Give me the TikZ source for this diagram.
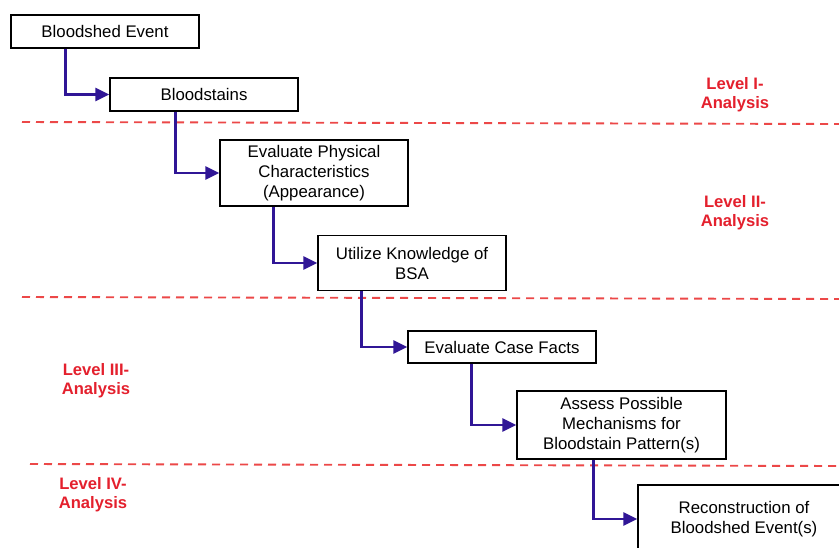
\documentclass[tikz,border=0pt]{standalone}
\usepackage{fontspec}
\setmainfont{Liberation Sans}
\usetikzlibrary{arrows.meta}
\definecolor{arrowblue}{RGB}{48,22,150}
\definecolor{lvlred}{RGB}{228,32,45}
\definecolor{dashred}{RGB}{236,72,72}
\tikzset{
  stepbox/.style={draw=black, line width=1.4pt, fill=white, inner sep=0pt, align=center,
    font=\fontsize{16.8}{20}\selectfont},
  flow/.style={draw=arrowblue, line width=2.6pt, -{Triangle[length=14pt,width=13pt]}},
  levelline/.style={draw=dashred, line width=1.9pt, dash pattern=on 8pt off 6pt},
  lvl/.style={text=lvlred, font=\fontsize{16.6}{19}\selectfont\bfseries, align=center, inner sep=0pt}
}
\begin{document}
\begin{tikzpicture}[x=1pt,y=-1pt]
\clip (0,0) rectangle (839,547);
\fill[white] (0,0) rectangle (839,547);
% dashed separators
\coordinate (d1a) at (22,122); \coordinate (d1b) at (839,124);
\coordinate (d2a) at (22,297); \coordinate (d2b) at (839,299);
\coordinate (d3a) at (30,464); \coordinate (d3b) at (839,466);
\draw[levelline] (d1a) -- (d1b);
\draw[levelline] (d2a) -- (d2b);
\draw[levelline] (d3a) -- (d3b);
% boxes
\node[stepbox, minimum width=188pt, minimum height=33pt] (b1) at (105,31.5) {Bloodshed Event};
\node[stepbox, minimum width=188pt, minimum height=33pt] (b2) at (204,94.5) {Bloodstains};
\node[stepbox, minimum width=188pt, minimum height=66pt] (b3) at (314,173) {Evaluate Physical\\Characteristics\\(Appearance)};
\node[stepbox, minimum width=188pt, minimum height=55pt] (b4) at (412,263) {Utilize Knowledge of\\BSA};
\node[stepbox, minimum width=188pt, minimum height=32pt] (b5) at (502,347) {Evaluate Case Facts};
\node[stepbox, minimum width=209pt, minimum height=68pt] (b6) at (621.5,425) {Assess Possible\\Mechanisms for\\Bloodstain Pattern(s)};
\node[stepbox, minimum width=212pt, minimum height=68pt] (b7) at (744,519) {Reconstruction of\\Bloodshed Event(s)};
% connectors
\draw[flow] ([xshift=55pt]b1.south west) |- (b2.west);
\draw[flow] ([xshift=66pt]b2.south west) |- (b3.west);
\draw[flow] ([xshift=54pt]b3.south west) |- (b4.west);
\draw[flow] ([xshift=44pt]b4.south west) |- (b5.west);
\draw[flow] ([xshift=64pt]b5.south west) |- (b6.west);
\draw[flow] ([xshift=77pt]b6.south west) |- (b7.west);
% level labels
\node[lvl] (l1) at (735,95) {Level I-\\Analysis};
\node[lvl] (l2) at (735,213) {Level II-\\Analysis};
\node[lvl] (l3) at (96,381) {Level III-\\Analysis};
\node[lvl] (l4) at (93,495) {Level IV-\\Analysis};
\end{tikzpicture}
\end{document}
